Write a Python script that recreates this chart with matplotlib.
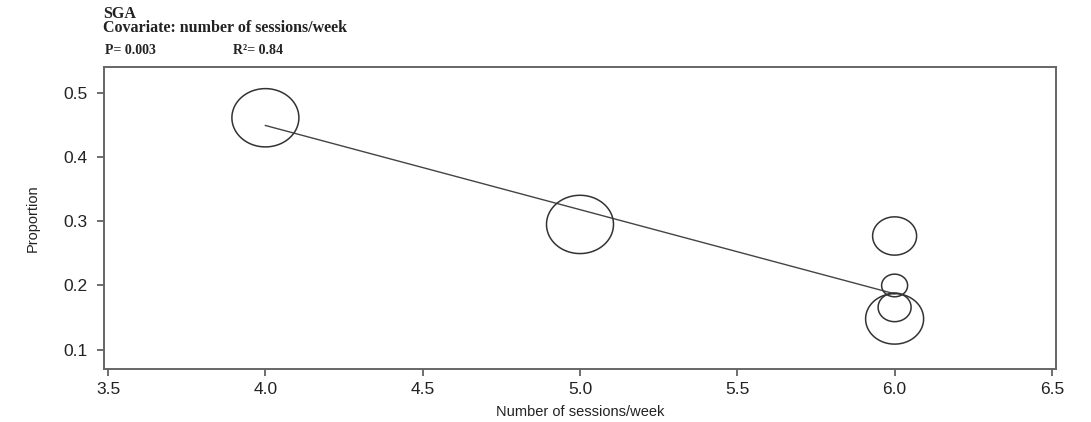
import matplotlib.pyplot as plt
import numpy as np
from matplotlib.path import Path
from matplotlib.markers import MarkerStyle

# meta-regression of SGA proportion on sessions per week
sessions = [4.0, 5.0, 6.0, 6.0, 6.0, 6.0]
proportion = [0.461, 0.295, 0.277, 0.200, 0.166, 0.148]
weights = [4489, 4489, 1936, 676, 1089, 3364]   # study weights (bubble area)

fit_x = [4.0, 6.0]
fit_y = [0.449, 0.187]

x_ticks = [3.5, 4.0, 4.5, 5.0, 5.5, 6.0, 6.5]
y_ticks = [0.1, 0.2, 0.3, 0.4, 0.5]

plt.rcParams['font.family'] = ['Liberation Sans', 'DejaVu Sans']

fig = plt.figure(figsize=(10.91, 4.22), dpi=100)
ax = fig.add_axes([104 / 1091, 1 - 369 / 422, 952 / 1091, 302 / 422])

# slightly squashed circle as the bubble marker
t = np.linspace(0, 2 * np.pi, 100)
ell = Path(np.column_stack([np.cos(t), 0.87 * np.sin(t)]), closed=True)
marker = MarkerStyle(ell)

# bubble width in points scales with sqrt(weight)
w = np.array(weights, dtype=float)
sizes = (67 * 0.72 * np.sqrt(w / w.max())) ** 2

ax.plot(fit_x, fit_y, color='#444444', linewidth=1.0, zorder=2)
ax.scatter(sessions, proportion, s=sizes, marker=marker, facecolors='none',
           edgecolors='#333333', linewidths=1.1, zorder=3)

ax.set_xlim(3.487, 6.513)
ax.set_ylim(0.070, 0.540)
ax.set_xticks(x_ticks)
ax.set_xticklabels(['%.1f' % v for v in x_ticks])
ax.set_yticks(y_ticks)
ax.set_yticklabels(['%.1f' % v for v in y_ticks])
ax.tick_params(labelsize=12.5, length=5, width=1.2, color='#555555',
               labelcolor='#222222')
ax.tick_params(axis='x', pad=4)
ax.tick_params(axis='y', pad=7)

for s in ax.spines.values():
    s.set_color('#666666')
    s.set_linewidth(1.4)

ax.set_xlabel('Number of sessions/week', fontsize=10.5, color='#222222', labelpad=6)
ax.set_ylabel('Proportion', fontsize=10.5, color='#222222', labelpad=17)

serif = ['Liberation Serif', 'DejaVu Serif']
fig.text(103 / 1091, 1 - 14 / 422, 'SGA', family=serif, weight='bold',
         fontsize=11.5, va='center', ha='left', color='#222222')
fig.text(103 / 1091, 1 - 28 / 422, 'Covariate: number of sessions/week',
         family=serif, weight='bold', fontsize=11.5, va='center', ha='left',
         color='#222222')
fig.text(105 / 1091, 1 - 51 / 422, 'P= 0.003', family=serif, weight='bold',
         fontsize=10, va='center', ha='left', color='#222222')
fig.text(233 / 1091, 1 - 51 / 422, 'R\u00b2= 0.84', family=serif, weight='bold',
         fontsize=10, va='center', ha='left', color='#222222')

fig.savefig('out.png', dpi=100)
